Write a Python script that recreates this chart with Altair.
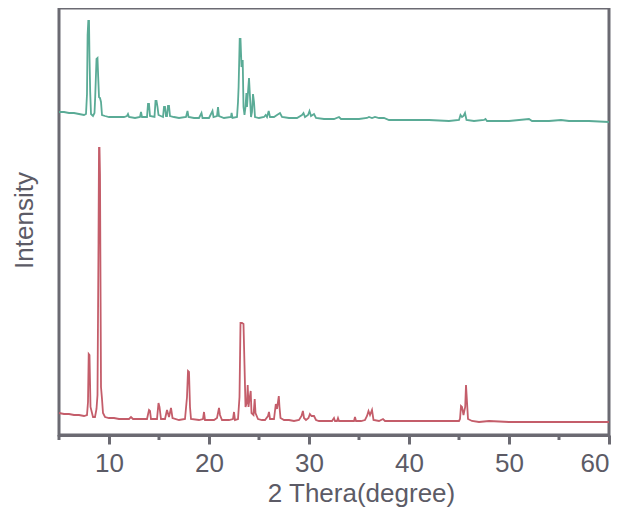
import altair as alt
import pandas as pd

# Green (upper) XRD trace: 2-theta (degree) and intensity (a.u.)
theta_green = [5.0, 5.5, 6.0, 6.5, 7.0, 7.5, 7.7, 7.8, 7.86, 7.93, 8.0, 8.05, 8.12, 8.2, 8.4, 8.55, 8.62,
               8.75, 8.85, 8.92, 9.0, 9.1, 9.2, 9.3, 9.6, 10.0, 10.5, 11.0, 11.5, 11.8, 11.9, 12.0,
               12.6, 13.1, 13.2, 13.3, 13.8, 13.9, 14.0, 14.1, 14.55, 14.65, 14.75, 14.85, 14.95,
               15.4, 15.5, 15.6, 15.7, 15.8, 15.9, 16.0, 16.1, 16.5, 17.0, 17.7, 17.85, 17.95, 18.5,
               19.0, 19.25, 19.35, 20.0, 20.35, 20.45, 20.8, 20.9, 21.0, 21.5, 22.2, 22.26, 22.35,
               22.8, 22.9, 22.96, 23.07, 23.15, 23.25, 23.37, 23.45, 23.55, 23.65, 23.74, 23.8, 23.9,
               24.0, 24.1, 24.2, 24.3, 24.4, 24.5, 24.6, 25.0, 25.5, 25.67, 25.8, 25.97, 26.1, 26.5,
               26.8, 27.1, 27.3, 28.0, 28.8, 29.3, 29.45, 29.6, 29.9, 30.05, 30.2, 30.5, 30.7, 31.5,
               32.5, 33.0, 33.2, 34.0, 35.0, 35.8, 36.0, 36.3, 36.6, 37.0, 37.5, 38.0, 40.0, 42.0,
               44.0, 45.0, 45.15, 45.3, 45.45, 45.6, 45.75, 46.5, 47.5, 47.65, 47.8, 50.0, 52.0, 52.3,
               54.0, 55.2, 56.0, 58.0, 60.0]
int_green = [325, 325, 324, 324, 323, 322, 323, 343, 402, 416, 416, 380, 345, 323, 321, 324, 340,
             378, 379, 360, 340, 339, 335, 322, 321, 320, 320, 320, 320, 321, 323, 320,
             319, 320, 325, 320, 320, 333, 333, 321, 320, 336, 336, 330, 322,
             320, 330, 330, 321, 321, 331, 331, 321, 320, 319, 320, 326, 320, 319,
             319, 324, 319, 319, 326, 320, 321, 330, 321, 319, 320, 324, 319,
             320, 335, 350, 398, 398, 370, 377, 330, 322, 330, 344, 330, 345,
             359, 340, 320, 325, 343, 335, 320, 319, 320, 322, 320, 326, 320, 320,
             322, 324, 320, 319, 319, 322, 324, 320, 322, 326, 321, 323, 319, 318,
             318, 320, 318, 318, 318, 319, 320, 319, 320, 319, 319, 317, 317, 317,
             316, 317, 322, 320, 321, 324, 317, 316, 317, 318, 316, 316, 318, 316,
             316, 317, 316, 316, 315]

# Red (lower) XRD trace
theta_red = [5.0, 5.5, 6.0, 6.5, 7.0, 7.5, 7.8, 7.9, 7.97, 8.05, 8.15, 8.4, 8.6, 8.75, 8.85, 8.95,
             9.0, 9.05, 9.1, 9.2, 9.3, 9.4, 9.6, 10.0, 10.5, 11.0, 12.0, 12.2, 12.4, 13.0, 13.5,
             13.8, 14.0, 14.1, 14.2, 14.8, 14.95, 15.05, 15.2, 15.6, 15.8, 16.0, 16.2, 16.35, 17.0,
             17.6, 17.8, 17.9, 18.0, 18.1, 18.2, 19.0, 19.4, 19.5, 19.6, 20.5, 20.8, 21.0, 21.1,
             21.3, 22.0, 22.4, 22.5, 22.6, 22.9, 23.05, 23.15, 23.3, 23.45, 23.55, 23.65, 23.8,
             23.87, 23.95, 24.05, 24.17, 24.25, 24.45, 24.57, 24.65, 24.9, 25.3, 25.6, 25.9, 26.0,
             26.1, 26.5, 26.68, 26.8, 26.98, 27.05, 27.15, 27.5, 28.0, 28.5, 29.0, 29.25, 29.39,
             29.5, 29.7, 29.95, 30.09, 30.25, 30.5, 30.7, 31.0, 31.5, 32.3, 32.5, 32.6, 32.8, 32.9,
             33.0, 33.4, 34.5, 34.6, 34.7, 35.2, 35.6, 35.8, 35.95, 36.1, 36.3, 36.45, 37.0, 37.4,
             37.6, 38.5, 40.0, 42.0, 44.0, 45.0, 45.1, 45.2, 45.3, 45.45, 45.55, 45.62, 45.7, 45.8,
             45.9, 46.3, 47.0, 48.0, 50.0, 52.0, 54.0, 56.0, 57.0, 58.0, 60.0]
int_red = [24, 23, 23, 22, 22, 21, 22, 35, 83, 82, 30, 20, 20, 28, 42, 194,
           289, 289, 262, 50, 38, 24, 20, 19, 19, 18, 18, 20, 18, 18, 18,
           18, 27, 26, 18, 18, 34, 30, 18, 18, 27, 20, 29, 19, 17,
           18, 40, 66, 65, 30, 18, 17, 18, 25, 17, 17, 19, 29, 22,
           17, 17, 18, 25, 17, 18, 40, 114, 114, 113, 72, 30, 35,
           52, 30, 38, 46, 24, 22, 38, 24, 18, 17, 17, 21, 25,
           18, 18, 33, 28, 41, 30, 19, 17, 17, 16, 17, 21, 26,
           19, 17, 19, 23, 21, 21, 17, 16, 16, 16, 19, 16, 16, 19,
           16, 16, 16, 20, 16, 16, 17, 21, 26, 22, 27, 17, 16, 18,
           16, 16, 16, 16, 16, 16, 18, 31, 30, 22, 27, 30, 52, 35,
           18, 16, 15, 16, 15, 15, 15, 15, 15, 15, 15]

major_ticks = [10, 20, 30, 40, 50, 60]
minor_ticks = [5, 15, 25, 35, 45, 55]

series_names = ["green", "red"]
series_colors = ["#5aab96", "#c45d6a"]

df = pd.concat([
    pd.DataFrame({"theta": theta_green, "intensity": int_green, "series": "green"}),
    pd.DataFrame({"theta": theta_red, "intensity": int_red, "series": "red"}),
])
minor_df = pd.DataFrame({"theta": minor_ticks})

frame_color = "#6b6a72"
text_color = "#5c5b66"
font = "Liberation Sans"

PLOT_W, PLOT_H = 550, 427

xscale = alt.Scale(domain=[5, 60], nice=False, zero=False)

lines = alt.Chart(df).mark_line(strokeWidth=1.8, strokeJoin="miter").encode(
    x=alt.X("theta:Q", scale=xscale,
            axis=alt.Axis(values=major_ticks, title="2 Thera(degree)", grid=False,
                          domainColor=frame_color, domainWidth=3,
                          tickColor=frame_color, tickWidth=3, tickSize=9,
                          labelFont=font, labelFontSize=26, labelColor=text_color,
                          labelBaseline="alphabetic", labelPadding=27.5,
                          titleFont=font, titleFontSize=26, titleColor=text_color,
                          titleFontWeight="normal", titleBaseline="alphabetic",
                          titleX=302, titleY=66.5, titleAlign="center")),
    y=alt.Y("intensity:Q", scale=alt.Scale(domain=[2, 429], nice=False, zero=False),
            axis=alt.Axis(title="Intensity", labels=False, ticks=False, domain=False, grid=False,
                          titleFont=font, titleFontSize=26, titleColor=text_color,
                          titleFontWeight="normal", titleBaseline="alphabetic",
                          titleAngle=270, titleX=-27, titleY=212, titleAlign="center")),
    color=alt.Color("series:N", scale=alt.Scale(domain=series_names, range=series_colors), legend=None),
    detail="series:N",
)

minor = alt.Chart(minor_df).mark_rule(color=frame_color, strokeWidth=3).encode(
    x=alt.X("theta:Q", scale=xscale),
    y=alt.value(PLOT_H),
    y2=alt.value(PLOT_H + 5),
)

chart = alt.layer(lines, minor).properties(
    width=PLOT_W, height=PLOT_H,
    background="white",
    autosize=alt.AutoSizeParams(type="none"),
    padding={"left": 51, "top": 0, "right": 12, "bottom": 75},
).configure_view(
    stroke=frame_color, strokeWidth=3
)

chart.save("out.html", embed_options={"renderer": "svg", "actions": False})
